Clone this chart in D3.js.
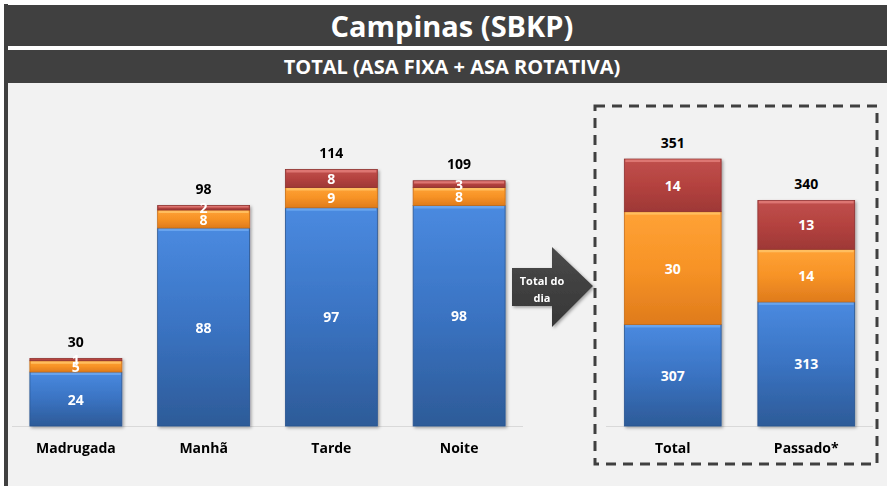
<!DOCTYPE html>
<html><head><meta charset="utf-8">
<script src="https://cdn.jsdelivr.net/npm/d3@7"></script>
<style>html,body{margin:0;padding:0;background:#fff;}svg{display:block;}</style>
</head><body>
<svg id="chart" width="887" height="486"></svg>
<script>
// ---- data ----
const categories = ["Madrugada", "Manhã", "Tarde", "Noite"];
const blueValues = [24, 88, 97, 98];
const orangeValues = [5, 8, 9, 8];
const redValues = [1, 2, 8, 3];
const totals = [30, 98, 114, 109];

const summaryCategories = ["Total", "Passado*"];
const summaryBlue = [307, 313];
const summaryOrange = [30, 14];
const summaryRed = [14, 13];
const summaryTotals = [351, 340];

const titleText = "Campinas (SBKP)";
const subtitleText = "TOTAL (ASA FIXA + ASA ROTATIVA)";
const arrowLines = ["Total do", "dia"];

const seriesKeys = ["blue", "orange", "red"];
const FONT = "'Open Sans', 'DejaVu Sans', sans-serif";

const svg = d3.select("#chart");
const defs = svg.append("defs");

const grads = {
  blue: ["#4a8ae0", "#3a73c2", "#2d5b98"],
  orange: ["#ffa236", "#f79326", "#df7b1c"],
  red: ["#c0504d", "#b4423f", "#9e3836"]
};
Object.entries(grads).forEach(([k, c]) => {
  const g = defs.append("linearGradient").attr("id", "g-" + k)
    .attr("x1", 0).attr("y1", 0).attr("x2", 0).attr("y2", 1);
  g.append("stop").attr("offset", "0%").attr("stop-color", c[0]);
  g.append("stop").attr("offset", "50%").attr("stop-color", c[1]);
  g.append("stop").attr("offset", "100%").attr("stop-color", c[2]);
});
const hl = { blue: "#6aa6f0", orange: "#ffc163", red: "#e07a77" };
const edge = { blue: "#2a5590", orange: "#c86e18", red: "#8e3230" };

const ag = defs.append("linearGradient").attr("id", "g-arrow")
  .attr("x1", 0).attr("y1", 0).attr("x2", 0).attr("y2", 1);
ag.append("stop").attr("offset", "0%").attr("stop-color", "#4a4a4a");
ag.append("stop").attr("offset", "100%").attr("stop-color", "#363636");

const sh = defs.append("filter").attr("id", "shadow").attr("x", "-20%").attr("y", "-20%").attr("width", "140%").attr("height", "140%");
sh.append("feDropShadow").attr("dx", 1.5).attr("dy", 1.5).attr("stdDeviation", 1.5).attr("flood-color", "#000").attr("flood-opacity", 0.35);

// ---- background & header ----
svg.append("rect").attr("x", 8).attr("y", 83).attr("width", 879).attr("height", 403).attr("fill", "#f2f2f2");
svg.append("rect").attr("x", 4).attr("y", 5).attr("width", 883).attr("height", 41).attr("fill", "#404040");
svg.append("rect").attr("x", 4).attr("y", 50).attr("width", 883).attr("height", 33).attr("fill", "#404040");
svg.append("rect").attr("x", 4).attr("y", 4).attr("width", 4).attr("height", 482).attr("fill", "#404040");

svg.append("text").attr("x", 452).attr("y", 25).attr("text-anchor", "middle").attr("dominant-baseline", "central")
  .attr("fill", "#fff").attr("font-family", FONT).attr("font-weight", "bold").attr("font-size", 29)
  .text(titleText);
svg.append("text").attr("x", 452).attr("y", 66).attr("text-anchor", "middle").attr("dominant-baseline", "central")
  .attr("fill", "#fff").attr("font-family", FONT).attr("font-weight", "bold").attr("font-size", 20)
  .text(subtitleText);

// ---- generic stacked chart ----
function drawStacked(opts) {
  const { cats, blue, orange, red, tots, x0, x1, yBase, yMin, yMax, yTop, padding, axisX0, axisX1 } = opts;
  const rows = cats.map((c, i) => ({ cat: c, blue: blue[i], orange: orange[i], red: red[i], total: tots[i] }));
  const x = d3.scaleBand().domain(cats).range([x0, x1]).paddingInner(padding).paddingOuter(padding / 2);
  const y = d3.scaleLinear().domain([yMin, yMax]).range([yBase, yTop]);
  const stack = d3.stack().keys(seriesKeys)(rows);
  const g = svg.append("g");

  g.append("line").attr("x1", axisX0).attr("x2", axisX1).attr("y1", yBase + 0.5).attr("y2", yBase + 0.5)
    .attr("stroke", "#d9d9d9").attr("stroke-width", 1);

  const barsG = g.append("g").attr("filter", "url(#shadow)");
  stack.forEach(s => {
    const key = s.key;
    s.forEach(d => {
      const lo = Math.max(yMin, d[0]);
      const yy = y(d[1]), h = y(lo) - y(d[1]);
      const xx = x(d.data.cat), w = x.bandwidth();
      barsG.append("rect").attr("x", xx).attr("y", yy).attr("width", w).attr("height", h)
        .attr("fill", `url(#g-${key})`).attr("stroke", edge[key]).attr("stroke-width", 0.8);
      if (h > 3) {
        barsG.append("rect").attr("x", xx + 1).attr("y", yy + 0.5).attr("width", w - 2).attr("height", Math.min(2.5, h / 3))
          .attr("fill", hl[key]).attr("opacity", 0.9);
      }
    });
  });

  stack.forEach(s => {
    s.forEach(d => {
      const lo = Math.max(yMin, d[0]);
      const cy = (y(lo) + y(d[1])) / 2;
      g.append("text").attr("x", x(d.data.cat) + x.bandwidth() / 2).attr("y", cy)
        .attr("text-anchor", "middle").attr("dominant-baseline", "central")
        .attr("fill", "#fff").attr("font-family", FONT).attr("font-weight", "bold").attr("font-size", 14)
        .text(d.data[s.key]);
    });
  });

  rows.forEach(r => {
    g.append("text").attr("x", x(r.cat) + x.bandwidth() / 2).attr("y", y(r.total) - 17)
      .attr("text-anchor", "middle").attr("dominant-baseline", "central")
      .attr("fill", "#000").attr("font-family", FONT).attr("font-weight", "bold").attr("font-size", 14)
      .text(r.total);
  });

  const axis = d3.axisBottom(x).tickSize(0).tickPadding(0);
  const axG = g.append("g").attr("transform", `translate(0,${yBase})`).call(axis);
  axG.select(".domain").remove();
  axG.selectAll("text").attr("y", 22).attr("dy", "0.35em")
    .attr("fill", "#000").attr("font-family", FONT).attr("font-weight", "bold").attr("font-size", 14);
}

drawStacked({
  cats: categories, blue: blueValues, orange: orangeValues, red: redValues, tots: totals,
  x0: 12, x1: 523, yBase: 426, yMin: 0, yMax: 120, yTop: 426 - 120 * 2.25, padding: 0.28,
  axisX0: 12, axisX1: 523
});

drawStacked({
  cats: summaryCategories, blue: summaryBlue, orange: summaryOrange, red: summaryRed, tots: summaryTotals,
  x0: 606, x1: 873, yBase: 426, yMin: 280, yMax: 360, yTop: 426 - 80 * 3.76, padding: 0.275,
  axisX0: 606, axisX1: 873
});

// ---- dashed box ----
svg.append("rect").attr("x", 595).attr("y", 106).attr("width", 282).attr("height", 358)
  .attr("fill", "none").attr("stroke", "#404040").attr("stroke-width", 3)
  .attr("stroke-dasharray", "10,7");

// ---- arrow ----
const arrowPts = [[512, 268], [552, 268], [552, 247], [593, 286], [552, 327], [552, 306], [512, 306]];
svg.append("path").attr("d", d3.line()(arrowPts) + "Z").attr("fill", "url(#g-arrow)")
  .attr("filter", "url(#shadow)");
arrowLines.forEach((t, i) => {
  svg.append("text").attr("x", 542).attr("y", 280 + i * 17).attr("text-anchor", "middle").attr("dominant-baseline", "central")
    .attr("fill", "#fff").attr("font-family", FONT).attr("font-weight", "bold").attr("font-size", 11)
    .text(t);
});
</script>
</body></html>
